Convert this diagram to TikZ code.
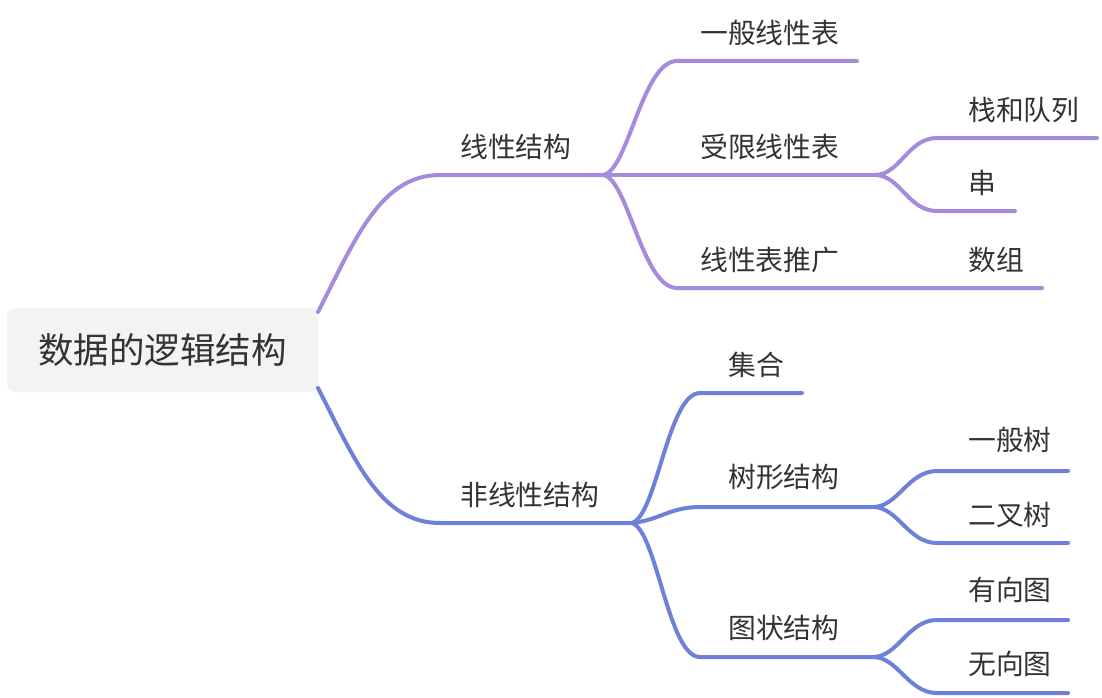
\documentclass[tikz,border=0pt]{standalone}
\usepackage{fontspec}
\setmainfont{Noto Sans CJK SC}
\definecolor{purp}{HTML}{A68ADB}
\definecolor{blu}{HTML}{6F80D9}
\definecolor{txt}{HTML}{333333}
\definecolor{rootbg}{HTML}{F3F3F3}
\begin{document}
\begin{tikzpicture}[x=1pt,y=-1pt,
  pline/.style={draw=purp,line width=4pt,line cap=round},
  bline/.style={draw=blu,line width=4pt,line cap=round},
  lbl/.style={anchor=west,inner sep=0pt,text=txt,font=\fontsize{27.8}{30}\selectfont},
  rootbox/.style={fill=rootbg,rounded corners=8pt,minimum width=311pt,minimum height=84pt,inner sep=0pt,text=txt,font=\fontsize{35.5}{40}\selectfont}]
\useasboundingbox (0,0) rectangle (1102,698);
% root
\node[rootbox] (root) at (162.5,350) {数据的逻辑结构};
% coordinates
\coordinate (r1) at (318,312);
\coordinate (r2) at (318,388);
\coordinate (h1) at (603,175);
\coordinate (h2) at (875,175);
\coordinate (h3) at (632,523);
\coordinate (h4) at (873,507);
\coordinate (h5) at (873,657);
\coordinate (e1) at (857,61);
\coordinate (e2) at (1042,288);
\coordinate (e3) at (1097,138);
\coordinate (e4) at (1015,211);
\coordinate (e5) at (802,393);
\coordinate (e6) at (1068,471);
\coordinate (e7) at (1068,543);
\coordinate (e8) at (1068,620);
\coordinate (e9) at (1068,693);
% purple branch
\draw[pline] (r1) .. controls (355,240) and (380,175) .. (440,175) -- (h1);
\draw[pline] (h1) .. controls (628,172) and (642,61) .. (677,61) -- (e1);
\draw[pline] (h1) -- (h2);
\draw[pline] (h1) .. controls (628,178) and (642,288) .. (677,288) -- (e2);
\draw[pline] (h2) .. controls (900,175) and (908,138) .. (937,138) -- (e3);
\draw[pline] (h2) .. controls (900,175) and (908,211) .. (937,211) -- (e4);
% blue branch
\draw[bline] (r2) .. controls (355,460) and (380,523) .. (440,523) -- (h3);
\draw[bline] (h3) .. controls (657,515) and (668,393) .. (700,393) -- (e5);
\draw[bline] (h3) .. controls (660,520) and (670,507) .. (700,507) -- (h4);
\draw[bline] (h3) .. controls (657,531) and (668,657) .. (700,657) -- (h5);
\draw[bline] (h4) .. controls (898,507) and (908,471) .. (937,471) -- (e6);
\draw[bline] (h4) .. controls (898,507) and (908,543) .. (937,543) -- (e7);
\draw[bline] (h5) .. controls (898,657) and (908,620) .. (937,620) -- (e8);
\draw[bline] (h5) .. controls (898,657) and (908,693) .. (937,693) -- (e9);
% labels
\node[lbl] (t1) at (460,147) {线性结构};
\node[lbl] (t2) at (700,33) {一般线性表};
\node[lbl] (t3) at (700,147) {受限线性表};
\node[lbl] (t4) at (700,260) {线性表推广};
\node[lbl] (t5) at (968,110) {栈和队列};
\node[lbl] (t6) at (968,183) {串};
\node[lbl] (t7) at (968,260) {数组};
\node[lbl] (t8) at (460,495) {非线性结构};
\node[lbl] (t9) at (728,365) {集合};
\node[lbl] (t10) at (728,477) {树形结构};
\node[lbl] (t11) at (728,628) {图状结构};
\node[lbl] (t12) at (968,440) {一般树};
\node[lbl] (t13) at (968,515) {二叉树};
\node[lbl] (t14) at (968,590) {有向图};
\node[lbl] (t15) at (968,664) {无向图};
\end{tikzpicture}
\end{document}
